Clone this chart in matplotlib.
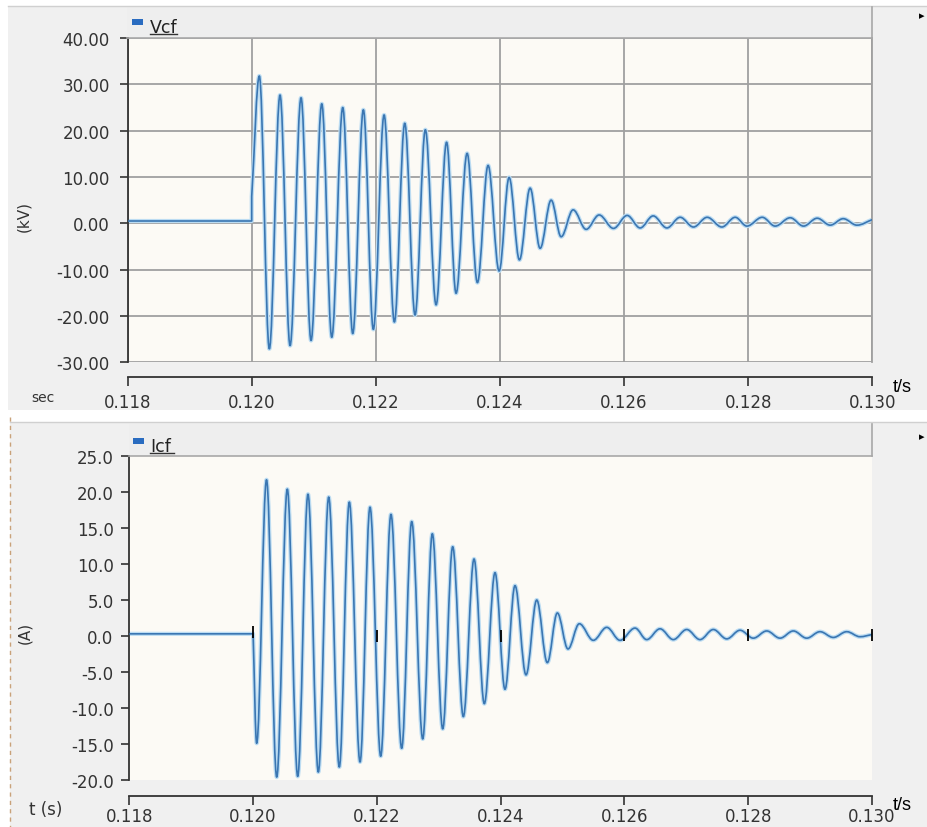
import matplotlib
matplotlib.use("Agg")
import matplotlib.pyplot as plt
import numpy as np
from matplotlib.patches import Rectangle, PathPatch
from matplotlib.path import Path
from matplotlib.lines import Line2D
from matplotlib.ticker import FormatStrFormatter, MultipleLocator

# ---- data (time in ms) ----
# Vcf (kV): flat before switching, then alternating peaks / troughs
vcf_t = [118.0, 120.0, 120.0,
         120.123, 120.284, 120.456, 120.618, 120.795, 120.956, 121.129, 121.290,
         121.467, 121.628, 121.799, 121.960, 122.133, 122.299, 122.466, 122.632,
         122.798, 122.971, 123.140, 123.293, 123.471, 123.637, 123.809, 123.987,
         124.148, 124.314, 124.486, 124.647, 124.825, 124.986, 125.179, 125.389,
         125.598, 125.829, 126.050, 126.259, 126.469, 126.690, 126.904, 127.118,
         127.339, 127.576, 127.791, 127.979, 128.226, 128.435, 128.677, 128.892,
         129.112, 129.322, 129.531, 129.752, 130.0]
vcf_v = [0.5, 0.5, 5.8,
         31.8, -27.1, 27.7, -26.4, 27.1, -25.3, 25.8, -24.6,
         25.0, -23.8, 24.5, -22.9, 23.4, -21.3, 21.6, -19.8,
         20.2, -17.6, 17.5, -15.1, 15.1, -12.8, 12.5, -10.3,
         9.9, -7.9, 7.6, -5.4, 5.0, -2.9, 2.9, -1.3,
         1.8, -1.1, 1.7, -1.0, 1.6, -1.0, 1.3, -0.8,
         1.3, -0.8, 1.3, -0.6, 1.3, -0.6, 1.2, -0.6,
         1.1, -0.4, 1.0, -0.4, 0.8]

# Icf (A)
icf_t = [118.0, 120.0,
         120.058, 120.217, 120.382, 120.553, 120.721, 120.887, 121.054, 121.222,
         121.393, 121.555, 121.728, 121.889, 122.062, 122.228, 122.401, 122.563,
         122.741, 122.896, 123.064, 123.225, 123.397, 123.570, 123.736, 123.909,
         124.070, 124.232, 124.410, 124.583, 124.754, 124.916, 125.088, 125.271,
         125.497, 125.714, 125.929, 126.171, 126.360, 126.575, 126.790, 127.006,
         127.221, 127.436, 127.653, 127.868, 128.082, 128.299, 128.514, 128.729,
         128.945, 129.160, 129.375, 129.592, 129.806, 130.0]
icf_v = [0.3, 0.3,
         -14.9, 21.7, -19.6, 20.4, -19.5, 19.7, -18.9, 19.3,
         -18.2, 18.6, -17.5, 17.9, -16.7, 16.9, -15.6, 15.9,
         -14.3, 14.2, -12.9, 12.4, -11.2, 10.7, -9.4, 8.8,
         -7.4, 7.0, -5.4, 5.0, -3.7, 3.2, -1.8, 1.7,
         -0.6, 1.2, -0.6, 1.1, -0.5, 1.0, -0.5, 0.9,
         -0.5, 0.9, -0.4, 0.8, -0.3, 0.7, -0.3, 0.7,
         -0.3, 0.6, -0.2, 0.6, -0.1, 0.2]

# little black markers the plotter puts on the Icf trace
mark_t = [120.0, 122.0, 124.0, 126.0, 128.0, 130.0]
mark_v = [0.5, 0.0, 0.0, 0.2, 0.2, 0.2]

W, H = 927, 828
fig = plt.figure(figsize=(W / 100, H / 100), dpi=100)
fig.patch.set_facecolor("white")


def box(x0, y0, x1, y1):
    return [x0 / W, 1 - y1 / H, (x1 - x0) / W, (y1 - y0) / H]


def rect(x0, y0, x1, y1, color, z=0):
    fig.add_artist(Rectangle((x0 / W, 1 - y1 / H), (x1 - x0) / W, (y1 - y0) / H,
                             transform=fig.transFigure, facecolor=color,
                             edgecolor="none", zorder=z))


def hline(x0, x1, y, color, lw=1.0, ls="-"):
    fig.add_artist(Line2D([x0 / W, x1 / W], [1 - y / H, 1 - y / H],
                          transform=fig.transFigure, color=color, lw=lw, ls=ls))


def vline(x, y0, y1, color, lw=1.0, ls="-"):
    fig.add_artist(Line2D([x / W, x / W], [1 - y0 / H, 1 - y1 / H],
                          transform=fig.transFigure, color=color, lw=lw, ls=ls))


def wave_path(t, v, n_straight):
    # straight lead-in, then cubic segments with flat tangents at the extrema
    verts = [(t[0], v[0])]
    codes = [Path.MOVETO]
    for i in range(n_straight):
        verts.append((t[i + 1], v[i + 1]))
        codes.append(Path.LINETO)
    last = len(t) - 1
    for i in range(n_straight, last):
        t0, v0, t1, v1 = t[i], v[i], t[i + 1], v[i + 1]
        d = (t1 - t0) * 0.36
        c1 = (t0 + d, v0) if i > n_straight else (t0 + d, v0 + (v1 - v0) * 0.36)
        c2 = (t1 - d, v1) if i + 1 < last else (t1 - d, v1 - (v1 - v0) * 0.36)
        verts += [c1, c2, (t1, v1)]
        codes += [Path.CURVE4] * 3
    return Path(verts, codes)


def draw_trace(ax, t, v, n_straight):
    p = wave_path(list(t), list(v), n_straight)
    ax.add_patch(PathPatch(p, fill=False, edgecolor="#bcdcf2", lw=3.0,
                           joinstyle="round", zorder=2))
    ax.add_patch(PathPatch(p, fill=False, edgecolor="#3a76b2", lw=1.2,
                           joinstyle="round", zorder=3))


txt = "#333333"
grey = "#f0f0f0"

# panel backgrounds
rect(8, 7, 927, 411, grey)
hline(8, 927, 6.5, "#d0d0d0")
rect(10, 423, 927, 828, grey)
hline(10, 927, 422.5, "#d0d0d0")
vline(10, 418, 828, "#c9a27a", lw=1.0, ls=(0, (3, 3)))

# legend bands
rect(127, 8, 872, 38, "#eeeeee")
hline(127, 872, 38.5, "#a8a8a8", lw=1.2)
vline(871.5, 8, 38.5, "#a8a8a8", lw=1.2)
rect(129, 425, 872, 457, "#eeeeee")
hline(129, 872, 457, "#a8a8a8", lw=1.2)
vline(871.5, 425, 457, "#a8a8a8", lw=1.2)

# legend entries
rect(132, 20, 143, 26, "#2a6cc0", z=3)
fig.text(150 / W, 1 - 33 / H, "Vcf", fontsize=12.5, color="#222222", va="baseline")
hline(150, 177, 34.5, "#333333", lw=1.0)
rect(133, 439, 144, 445, "#2a6cc0", z=3)
fig.text(150 / W, 1 - 452 / H, "Icf", fontsize=12.5, color="#222222", va="baseline")
hline(150, 174, 454, "#333333", lw=1.0)

fig.text(922 / W, 1 - 16 / H, "\u25b8", fontsize=8, color="black", ha="center", va="center")
fig.text(922 / W, 1 - 437 / H, "\u25b8", fontsize=8, color="black", ha="center", va="center")


def style(ax, outward, tlen, tpad, ytick_pad):
    ax.set_facecolor("#fcfaf5")
    ax.set_xlim(0.118, 0.130)
    ax.xaxis.set_major_locator(MultipleLocator(0.002))
    ax.xaxis.set_major_formatter(FormatStrFormatter("%.3f"))
    ax.spines["top"].set_visible(False)
    ax.spines["left"].set_color("#333333")
    ax.spines["left"].set_linewidth(1.3)
    ax.spines["bottom"].set_color("#333333")
    ax.spines["bottom"].set_linewidth(1.3)
    ax.spines["bottom"].set_position(("outward", outward))
    ax.tick_params(axis="x", direction="out", length=tlen, width=1.2, pad=tpad,
                   colors="#333333", labelsize=12, labelcolor=txt)
    ax.tick_params(axis="y", direction="out", length=5.8, width=1.2, pad=ytick_pad,
                   colors="#333333", labelsize=12, labelcolor=txt)


# ---- Vcf ----
ax1 = fig.add_axes(box(127.6, 39, 872.3, 363.3))
style(ax1, 10.6, 6.5, 5.0, 7.0)
ax1.set_ylim(-30, 40)
ax1.yaxis.set_major_locator(MultipleLocator(10))
ax1.yaxis.set_major_formatter(FormatStrFormatter("%.2f"))
ax1.spines["right"].set_color("#a0a0a0")
ax1.spines["right"].set_linewidth(1.3)
ax1.grid(True, color="#a0a0a0", lw=1.3)
ax1.set_axisbelow(True)
draw_trace(ax1, np.array(vcf_t) / 1000, vcf_v, 2)

fig.text(24 / W, 1 - 216 / H, "(kV)", rotation=90, fontsize=11, color=txt,
         ha="center", va="center")
fig.text(43 / W, 1 - 398 / H, "sec", fontsize=10, color=txt, ha="center", va="center")
fig.text(893 / W, 1 - 388 / H, "t/s", fontsize=13, family="Liberation Sans",
         color="black", ha="left", va="center")

# ---- Icf ----
ax2 = fig.add_axes(box(129.3, 457, 872, 781))
style(ax2, 11.5, 6.5, 1.5, 5.5)
ax2.set_ylim(-20, 25)
ax2.yaxis.set_major_locator(MultipleLocator(5))
ax2.yaxis.set_major_formatter(FormatStrFormatter("%.1f"))
ax2.spines["right"].set_visible(False)
draw_trace(ax2, np.array(icf_t) / 1000, icf_v, 1)
ax2.plot(np.array(mark_t) / 1000, mark_v, ls="none", marker="|", ms=9, mew=1.3,
         color="black", zorder=4, clip_on=False)

fig.text(25 / W, 1 - 633 / H, "(A)", rotation=90, fontsize=11, color=txt,
         ha="center", va="center")
fig.text(46 / W, 1 - 810 / H, "t (s)", fontsize=12, color=txt, ha="center", va="center")
fig.text(893 / W, 1 - 806 / H, "t/s", fontsize=13, family="Liberation Sans",
         color="black", ha="left", va="center")

fig.savefig("out.png", dpi=100)
